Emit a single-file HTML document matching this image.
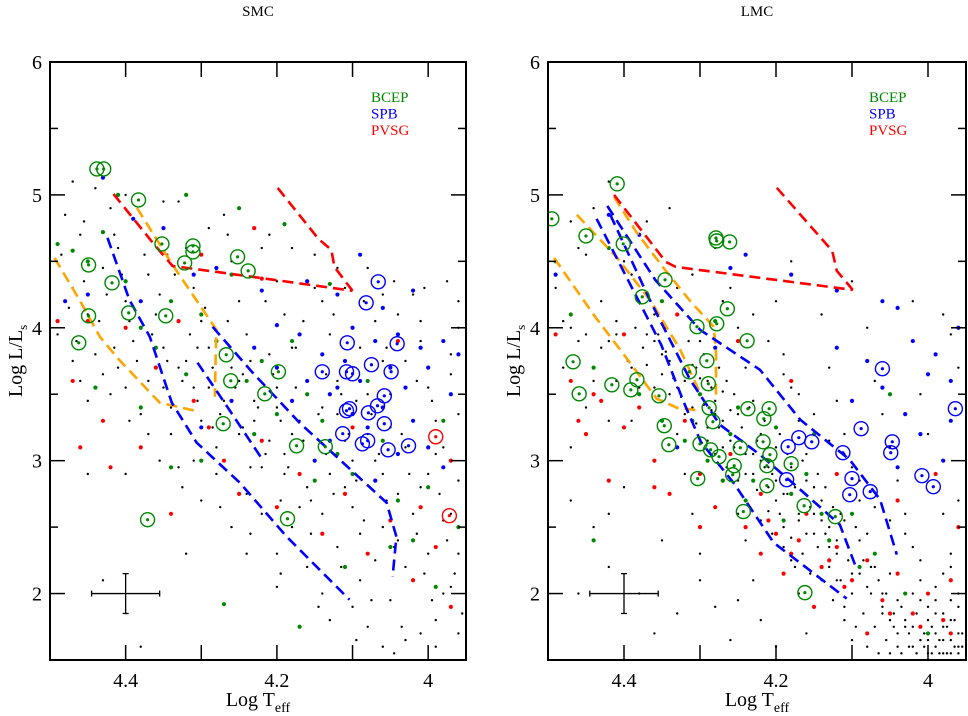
<!DOCTYPE html>
<html><head><meta charset="utf-8">
<style>
html,body{margin:0;padding:0;background:#fff;}
svg{display:block;font-family:"Liberation Serif",serif;}
</style></head>
<body>
<svg id="chart" width="968" height="716" viewBox="0 0 968 716" xmlns="http://www.w3.org/2000/svg"></svg>
<script>
// ---------- DATA ----------
const xTicksLabeled = [4.4, 4.2, 4.0];
const xTickLabels = ["4.4", "4.2", "4"];
const yTicks = [2, 3, 4, 5, 6];
const yTickLabels = ["2", "3", "4", "5", "6"];
const legendNames = ["BCEP", "SPB", "PVSG"];

const smcBlack = [4.48,4.85,4.46,4.7,4.47,4.3,4.45,4.1,4.49,3.95,4.44,3.8,4.46,3.6,4.42,4.9,4.41,4.6,4.43,4.45,4.40,4.2,4.39,3.9,4.41,3.7,4.38,4.75,4.37,4.4,4.36,4.1,4.35,3.85,4.37,3.6,4.34,3.4,4.33,4.95,4.32,4.6,4.31,4.3,4.30,4.05,4.32,3.75,4.29,3.55,4.30,3.3,4.28,3.1,4.27,4.85,4.26,4.5,4.25,4.2,4.24,3.95,4.26,3.7,4.23,3.45,4.25,3.2,4.22,2.95,4.21,4.7,4.20,4.35,4.19,4.1,4.18,3.85,4.20,3.55,4.17,3.3,4.19,3.05,4.16,2.8,4.18,2.5,4.15,4.55,4.14,4.2,4.13,3.95,4.12,3.6,4.14,3.4,4.11,3.15,4.13,2.9,4.10,2.65,4.12,2.35,4.09,2.1,4.08,4.45,4.07,4.05,4.06,3.75,4.08,3.5,4.05,3.25,4.07,3.0,4.04,2.75,4.06,2.5,4.03,2.2,4.05,1.95,4.02,4.25,4.01,3.9,4.00,3.55,4.02,3.3,3.99,3.05,4.01,2.8,3.98,2.55,4.00,2.3,3.97,2.05,3.99,1.8,3.96,4.0,3.97,3.65,3.96,3.35,3.98,3.1,3.96,2.85,3.97,2.6,3.96,2.3,3.98,2.0,3.96,1.7,3.99,1.6,4.03,1.65,4.08,1.75,4.10,1.9,4.14,2.0,4.16,2.2,4.20,2.3,4.22,2.6,4.24,2.75,4.28,2.9,4.31,3.0,4.34,3.2,4.38,3.35,4.42,3.5,4.45,3.45,4.47,3.75,4.43,3.65,4.40,3.55,4.35,3.55,4.33,3.7,4.29,3.85,4.27,3.45,4.23,3.3,4.21,3.15,4.19,2.9,4.17,2.65,4.15,3.0,4.16,3.5,4.11,2.8,4.09,2.45,4.07,2.25,4.04,2.4,4.02,2.6,4.00,2.9,3.99,3.3,4.05,3.5,4.09,3.85,4.11,4.3,4.04,4.1,4.15,4.3,4.22,4.6,4.29,4.75,4.35,4.95,4.44,5.05,4.47,5.1,4.40,5.0,4.18,4.6,4.12,4.45,4.06,4.25,4.01,4.05,4.25,3.6,4.21,3.8,4.31,3.55,4.37,3.2,4.33,2.95,4.30,2.7,4.26,2.5,4.24,2.3,4.20,2.05,4.13,1.8,4.06,1.6,4.01,1.7,4.40,2.9,4.45,2.9,4.43,2.1,4.32,2.3,4.38,1.6,3.97,3.8,3.96,4.2,4.03,3.75,4.08,3.2,4.12,3.35,4.14,2.6,4.18,3.2,4.20,3.4,4.10,3.0,4.06,2.9,4.03,3.1,
4.485,4.55,4.475,4.15,4.465,3.9,4.455,4.35,4.435,4.05,4.425,4.25,4.415,3.85,4.405,4.4,4.395,4.05,4.385,3.75,4.375,4.55,4.365,3.95,4.355,4.25,4.345,3.75,4.335,4.4,4.325,3.6,4.315,3.95,4.305,3.45,4.295,4.15,4.285,3.7,4.275,3.35,4.265,4.05,4.255,3.55,4.245,3.25,4.235,3.75,4.225,3.4,4.215,3.05,4.205,3.65,4.195,3.3,4.185,2.95,4.175,3.55,4.165,3.15,4.155,2.7,4.145,3.35,4.135,3.05,4.125,2.75,4.115,3.5,4.105,3.2,4.095,2.85,4.085,2.55,4.075,3.35,4.065,3.05,4.055,2.7,4.045,2.35,4.035,3.2,4.025,2.9,4.015,2.45,4.005,2.15,3.995,3.45,3.985,2.75,3.975,2.4,3.965,2.15,3.955,1.85,4.285,3.25,4.235,2.95,4.195,2.7,4.155,2.45,4.115,2.2,4.075,1.95,4.035,1.75,3.995,1.95,4.305,3.85,4.245,3.65,4.175,3.85,4.135,3.65,4.095,3.45,4.055,3.85,4.015,3.6,4.215,4.2,4.165,4.05,4.125,4.1,4.085,4.2,4.045,4.35,4.005,4.3,3.975,4.35,4.265,4.7,4.345,4.55,4.415,4.7,4.455,4.8,4.395,3.3,4.355,3.0,4.325,2.8,4.275,2.65,4.235,2.45,4.195,2.15,4.145,1.9,4.095,1.65,4.045,1.55];
const smcGreen = [4.49,4.63,4.47,4.58,4.45,4.5,4.43,4.72,4.40,4.35,4.38,4.0,4.36,3.85,4.34,4.2,4.41,5.0,4.32,3.65,4.30,4.1,4.28,3.9,4.26,4.4,4.24,3.6,4.22,3.75,4.20,3.35,4.18,3.9,4.16,3.5,4.14,3.3,4.12,3.05,4.10,2.9,4.08,3.6,4.06,3.15,4.04,2.7,4.02,2.4,4.00,2.8,3.98,3.3,3.96,2.5,4.34,2.95,4.30,3.0,4.27,1.92,4.17,1.75,4.11,2.2,4.13,4.33,4.19,4.78,4.25,4.9,4.32,5.0,4.44,3.55,4.38,3.4,4.23,3.2,4.15,2.85,4.05,2.35,3.99,2.05];
const smcBlue = [4.43,5.13,4.39,4.82,4.35,4.75,4.31,4.4,4.38,4.2,4.28,4.45,4.22,4.28,4.20,4.02,4.16,4.35,4.12,4.25,4.10,4.0,4.09,4.55,4.06,4.15,4.04,3.95,4.02,4.28,4.00,3.7,3.98,3.9,3.97,3.5,3.96,3.8,4.14,3.8,4.12,3.55,4.10,3.35,4.08,3.25,4.06,3.4,4.04,3.05,4.02,3.3,4.00,3.1,3.98,2.95,4.16,3.6,4.18,3.45,4.20,3.7,4.13,3.15,4.15,3.0,4.07,2.85,4.03,3.55,4.01,3.85,4.23,3.85,4.26,3.45,4.30,3.25,4.45,4.25,4.48,4.2,4.11,3.75,4.09,3.6,4.13,3.5,4.05,3.7,4.17,3.95,4.07,3.9];
const smcRed = [4.49,4.05,4.47,3.6,4.45,4.05,4.43,3.3,4.40,4.0,4.38,3.1,4.36,3.7,4.33,4.05,4.31,3.45,4.29,3.25,4.27,3.0,4.25,2.75,4.22,3.15,4.20,2.65,4.17,2.9,4.14,2.45,4.11,2.75,4.08,2.3,4.05,2.55,4.02,2.1,3.99,2.35,3.97,1.9,4.23,4.75,4.30,4.55,4.22,4.37,4.34,2.6,4.42,2.95,4.46,3.1,4.04,3.9,3.97,3.0,4.01,2.65,4.10,3.25];
const smcGreenCircled = [4.438,5.195,4.429,5.195,4.383,4.962,4.352,4.631,4.311,4.616,4.311,4.571,4.322,4.488,4.252,4.534,4.238,4.428,4.449,4.473,4.418,4.338,4.462,3.887,4.449,4.090,4.396,4.112,4.347,4.090,4.267,3.797,4.261,3.601,4.271,3.278,4.198,3.669,4.216,3.503,4.174,3.112,4.136,3.105,4.186,2.563,4.371,2.556];
const smcBlueCircled = [4.066,4.346,4.082,4.188,4.107,3.887,4.075,3.722,4.049,3.669,4.041,3.880,4.140,3.669,4.108,3.669,4.100,3.654,4.058,3.488,4.067,3.413,4.079,3.360,4.058,3.278,4.104,3.391,4.108,3.376,4.113,3.203,4.080,3.150,4.087,3.127,4.053,3.082,4.026,3.112];
const smcRedCircled = [3.990,3.180,3.972,2.586];
const smcRedTracks = [
  [4.416,5.007,4.364,4.639,4.338,4.466,4.223,4.376,4.100,4.278],
  [4.199,5.052,4.145,4.669,4.128,4.586,4.124,4.458,4.100,4.278]];
const smcBlueTracks = [
  [4.424,4.677,4.395,4.210,4.368,3.932,4.339,3.436,4.306,3.135,4.249,2.834,4.187,2.428,4.104,1.954],
  [4.305,3.737,4.263,3.383,4.219,3.007],
  [4.285,4.007,4.232,3.662,4.170,3.285,4.055,2.684,4.042,2.428,4.047,2.127]];
const smcOrangeTracks = [
  [4.494,4.526,4.461,4.210,4.434,3.932,4.411,3.774,4.355,3.436,4.302,3.368],
  [4.385,4.902,4.338,4.474,4.280,3.985,4.281,3.759,4.282,3.481]];

const lmcBlack = [4.49,4.3,4.47,4.0,4.48,3.7,4.46,4.6,4.44,4.9,4.45,3.4,4.47,3.1,4.43,4.2,4.42,3.9,4.41,3.6,4.40,4.5,4.39,3.3,4.40,2.8,4.44,2.5,4.42,2.2,4.38,2.0,4.36,1.7,4.37,4.8,4.36,4.1,4.35,3.8,4.34,3.5,4.33,3.2,4.32,2.9,4.31,2.6,4.30,2.3,4.28,1.9,4.31,4.4,4.30,3.9,4.29,3.6,4.28,3.35,4.27,3.1,4.26,2.85,4.25,2.6,4.24,2.4,4.23,2.1,4.22,1.8,4.26,4.3,4.25,4.0,4.24,3.7,4.23,3.45,4.22,3.2,4.21,2.95,4.20,2.7,4.19,2.5,4.18,2.25,4.17,2.0,4.16,1.7,4.20,4.2,4.19,3.8,4.18,3.55,4.17,3.3,4.16,3.05,4.15,2.8,4.14,2.55,4.13,2.35,4.12,2.1,4.11,1.9,4.10,1.65,4.14,4.1,4.13,3.7,4.12,3.45,4.11,3.2,4.10,2.95,4.09,2.7,4.08,2.45,4.07,2.2,4.06,2.0,4.05,1.8,4.04,1.6,4.08,4.0,4.07,3.6,4.06,3.35,4.05,3.1,4.04,2.85,4.03,2.6,4.02,2.35,4.01,2.1,4.00,1.9,3.99,1.7,3.98,1.55,4.02,3.9,4.01,3.5,4.00,3.2,3.99,2.9,3.98,2.6,3.97,2.3,3.96,2.0,3.97,1.8,3.96,1.6,3.96,3.7,3.97,3.3,3.96,2.7,3.98,4.1,4.36,3.9,4.35,3.65,4.34,3.75,4.33,3.55,4.32,3.6,4.31,3.4,4.30,3.5,4.29,3.25,4.28,3.45,4.27,3.3,4.26,3.15,4.25,3.35,4.24,3.05,4.23,2.9,4.22,3.0,4.21,2.8,4.20,3.1,4.19,2.75,4.18,2.95,4.17,2.6,4.16,2.85,4.15,2.45,4.14,2.7,4.13,2.5,4.12,2.3,4.11,2.55,4.10,2.15,4.09,2.4,4.08,2.05,4.07,2.3,4.06,1.85,4.05,2.15,4.04,1.95,4.03,1.75,4.02,2.0,4.01,1.65,4.00,1.8,3.99,1.6,3.98,1.75,3.97,1.65,3.96,1.55,3.98,1.85,3.97,1.95,3.99,2.05,4.00,1.55,4.02,1.6,3.96,1.9,3.955,1.7,3.965,1.6,3.975,1.55,3.985,1.65,3.995,1.75,4.005,1.7,4.015,1.85,4.025,1.7,4.035,1.9,4.045,1.75,4.055,2.0,4.065,2.1,4.075,2.2,4.085,2.25,4.095,2.5,4.105,2.35,4.115,2.6,4.125,2.65,4.135,2.8,4.145,2.9,4.155,2.65,4.165,3.0,4.175,2.8,4.185,3.05,4.195,3.2,4.205,2.9,4.215,3.3,4.225,3.15,4.235,3.4,4.245,3.25,4.255,3.5,4.265,3.6,4.275,3.7,4.285,3.55,4.295,3.8,4.305,3.7,4.315,3.9,4.325,3.75,4.345,4.0,4.355,3.95,4.375,3.85,4.385,4.0,4.395,3.75,4.41,4.05,4.43,3.85,4.45,3.95,4.48,4.05,
4.37,3.72,4.36,3.55,4.35,3.45,4.345,3.82,4.335,3.62,4.325,3.48,4.32,3.35,4.31,3.72,4.305,3.28,4.30,3.62,4.295,3.42,4.29,3.15,4.285,3.38,4.28,3.05,4.275,3.25,4.27,3.52,4.265,2.95,4.26,3.38,4.255,3.1,4.25,2.85,4.245,3.15,4.24,2.9,4.235,2.65,4.23,3.05,4.225,2.78,4.22,2.55,4.215,2.95,4.21,2.62,4.205,2.45,4.20,2.85,4.195,2.6,4.19,2.35,4.185,2.75,4.18,2.42,4.175,2.2,4.17,2.55,4.165,2.3,4.16,2.45,4.155,2.15,4.15,2.6,4.145,2.35,4.14,2.1,4.135,2.45,4.13,2.2,4.125,1.95,4.12,2.4,4.115,2.1,4.11,1.8,4.105,2.25,4.10,2.0,4.095,1.75,4.09,2.15,4.085,1.85,4.08,1.6,4.075,2.0,4.07,1.75,4.065,1.55,4.06,1.9,4.055,1.65,4.05,1.55,4.045,1.85,4.04,1.7,4.035,1.55,4.03,1.8,4.025,1.6,4.02,1.75,4.015,1.55,4.01,1.95,4.005,1.6,4.00,1.65,3.995,1.55,3.99,1.85,3.985,1.55,3.98,1.65,3.975,1.75,3.97,1.55,3.965,1.8,3.96,1.7,3.955,1.6,3.99,1.95,3.98,2.15,3.97,2.2,4.01,2.25,4.03,2.45,4.05,2.55,4.07,2.65,4.09,2.85,4.11,3.05,4.13,3.15,4.15,3.35,4.17,3.5,4.19,3.65,4.21,3.9,4.23,4.1,4.27,4.2,4.33,4.3,4.39,4.4,4.45,4.55,4.47,4.8,4.42,5.1,4.34,4.9,4.28,4.6,4.18,4.5,4.10,4.35,4.02,4.2,3.97,3.95,4.46,3.9,4.44,3.6,4.42,3.3,4.41,3.95,4.39,3.7,4.38,3.55,4.37,3.95,4.47,2.7,4.42,2.6,4.35,2.4,4.30,2.1,4.25,1.95,4.20,1.6,4.26,1.65,4.33,1.85,4.46,2.0];
const lmcGreen = [4.49,4.5,4.47,4.1,4.44,3.7,4.42,4.6,4.38,3.5,4.35,3.3,4.32,3.15,4.29,3.0,4.27,2.85,4.24,2.7,4.21,3.0,4.19,2.55,4.16,2.9,4.13,2.4,4.10,2.6,4.07,2.3,4.03,2.0,4.00,1.7,4.25,3.4,4.30,3.5,4.20,3.25,4.15,3.2,4.05,3.5,4.44,2.4,4.35,4.2,4.28,4.05,4.23,2.85,4.18,2.75,4.14,2.6,4.09,2.2,4.26,3.2,4.31,3.3];
const lmcBlue = [4.49,4.4,4.42,4.85,4.38,4.7,4.24,4.55,4.26,4.45,4.18,4.4,4.12,4.28,4.06,4.2,4.04,4.15,4.02,3.9,3.99,3.8,3.97,3.6,3.96,4.0,4.08,3.75,4.06,3.55,4.03,3.35,4.01,3.2,3.98,3.0,4.10,3.45,4.12,3.85,4.00,3.65,4.04,2.95,3.97,3.3,4.33,3.1,4.28,3.85];
const lmcRed = [4.49,3.95,4.47,3.6,4.46,3.3,4.45,3.2,4.43,3.45,4.42,2.85,4.40,3.25,4.38,3.4,4.36,3.0,4.34,2.75,4.32,3.3,4.30,2.9,4.28,2.65,4.26,3.05,4.24,2.5,4.22,2.75,4.20,2.45,4.18,2.3,4.16,2.6,4.14,2.2,4.12,2.35,4.10,2.1,4.08,2.25,4.06,1.95,4.04,2.15,4.02,1.85,4.00,2.0,3.98,1.8,3.97,2.1,3.96,2.5,3.99,2.9,4.04,2.7,4.12,2.9,4.18,3.6,4.25,3.9,4.33,4.1,4.40,3.95,4.30,2.5,4.22,2.3,4.15,1.9,4.08,1.7,4.36,2.8,4.44,3.5,4.21,2.55,4.17,2.4,4.13,2.25,4.11,2.05,4.27,2.85,4.19,2.15,4.05,1.85,4.01,1.75,3.97,1.7];
const lmcGreenCircled = [4.495,4.82,4.409,5.083,4.450,4.691,4.401,4.631,4.279,4.676,4.278,4.654,4.261,4.646,4.346,4.361,4.376,4.233,4.264,4.143,4.304,4.008,4.278,4.030,4.238,3.902,4.467,3.744,4.459,3.503,4.416,3.571,4.391,3.533,4.383,3.609,4.354,3.488,4.314,3.669,4.291,3.752,4.289,3.579,4.288,3.398,4.283,3.293,4.347,3.263,4.341,3.120,4.300,3.127,4.286,3.082,4.275,3.030,4.303,2.865,4.255,2.962,4.257,2.894,4.247,3.097,4.237,3.391,4.209,3.391,4.216,3.316,4.217,3.142,4.208,3.045,4.212,2.962,4.212,2.812,4.180,2.977,4.243,2.617,4.163,2.661,4.122,2.579,4.162,2.007];
const lmcBlueCircled = [4.060,3.692,3.964,3.391,4.088,3.241,4.170,3.173,4.184,3.105,4.153,3.142,4.112,3.060,4.047,3.142,4.049,3.060,4.100,2.865,4.186,2.857,4.103,2.744,4.076,2.767,4.008,2.887,3.993,2.804];
const lmcRedCircled = [];
const lmcRedTracks = [
  [4.413,5.0,4.345,4.496,4.332,4.458,4.099,4.285],
  [4.199,5.053,4.126,4.579,4.120,4.429,4.099,4.285]];
const lmcBlueTracks = [
  [4.436,4.820,4.378,4.173,4.351,3.872,4.321,3.436,4.299,3.142,4.255,2.827,4.203,2.383,4.107,1.962],
  [4.422,4.917,4.359,4.361,4.300,3.985,4.221,3.684,4.168,3.308,4.103,3.007,4.063,2.707,4.041,2.293],
  [4.418,4.850,4.366,4.210,4.313,3.609,4.274,3.271,4.221,3.045,4.168,2.782,4.116,2.519,4.096,2.218]];
const lmcOrangeTracks = [
  [4.492,4.526,4.439,4.090,4.396,3.767,4.357,3.466,4.330,3.398,4.299,3.376],
  [4.462,4.850,4.409,4.526,4.364,4.195,4.326,3.835,4.299,3.497],
  [4.413,4.985,4.383,4.714,4.347,4.443,4.312,4.195,4.282,4.008,4.279,3.820,4.279,3.466]];

// ---------- DRAW ----------
const NS = "http://www.w3.org/2000/svg";
const svg = document.getElementById("chart");
function mk(tag, attrs, parent){
  const e = document.createElementNS(NS, tag);
  for (const k in attrs) e.setAttribute(k, attrs[k]);
  (parent||svg).appendChild(e);
  return e;
}
const T0 = 4.5, T1 = 3.95, L0 = 1.5, L1 = 6;

function panel(key, title, left, right, top, bottom, ds){
  const g = mk("g", {});
  
  
  const sx = t => left + (T0 - t) / (T0 - T1) * (right - left);
  const sy = l => bottom - (l - L0) / (L1 - L0) * (bottom - top);
  const cid = "clip-" + key;
  const defs = mk("defs", {}, g);
  const cp = mk("clipPath", {id: cid}, defs);
  mk("rect", {x:left, y:top, width:right-left, height:bottom-top}, cp);

  const t = mk("text", {x:(left+right)/2, y:16, "text-anchor":"middle", "font-size":"15"}, g);
  t.textContent = title;
  
  

  const plot = mk("g", {"clip-path":"url(#"+cid+")"}, g);
  
  

  function dots(arr, color, r, name){
    const dg = mk("g", {fill: color}, plot);
    
    
    for (let i = 0; i < arr.length; i += 2){
      const c = mk("circle", {cx: sx(arr[i]), cy: sy(arr[i+1]), r: r}, dg);
      
      
    }
  }
  function rings(arr, color, name){
    const dg = mk("g", {}, plot);
    
    
    for (let i = 0; i < arr.length; i += 2){
      const c = mk("circle", {cx: sx(arr[i]), cy: sy(arr[i+1]), r: 7, fill:"none", stroke: color, "stroke-width": 1.4}, dg);
      
      
      const d = mk("circle", {cx: sx(arr[i]), cy: sy(arr[i+1]), r: 1.6, fill: color}, dg);
      
      
    }
  }
  function tracks(list, color, name){
    list.forEach(arr => {
      let d = "";
      for (let i = 0; i < arr.length; i += 2) d += (i ? "L" : "M") + sx(arr[i]).toFixed(1) + "," + sy(arr[i+1]).toFixed(1);
      const p = mk("path", {d: d, fill:"none", stroke: color, "stroke-width": 2.6, "stroke-dasharray": "11,6"}, plot);
      
      
    });
  }
  dots(ds.black, "#000", 1.2, key + "-field-stars");
  dots(ds.red, "#ff0000", 2.1, key + "-pvsg-stars");
  dots(ds.green, "#008800", 2.1, key + "-bcep-stars");
  dots(ds.blue, "#0000ff", 2.1, key + "-spb-stars");
  tracks(ds.orange, "#ffa500", key + "-orange-track");
  tracks(ds.blueT, "#0000ff", key + "-spb-instability-strip");
  tracks(ds.redT, "#ff0000", key + "-pvsg-boundary");
  rings(ds.gc, "#008800", key + "-bcep-candidates");
  rings(ds.bc, "#0000ff", key + "-spb-candidates");
  rings(ds.rc, "#ff0000", key + "-pvsg-candidates");

  // error bar
  const eb = mk("g", {stroke:"#000", "stroke-width":1.3}, plot);
  
  
  mk("line", {x1: sx(4.445), x2: sx(4.355), y1: sy(2), y2: sy(2)}, eb);
  mk("line", {x1: sx(4.4), x2: sx(4.4), y1: sy(2.15), y2: sy(1.85)}, eb);
  mk("line", {x1: sx(4.445), x2: sx(4.445), y1: sy(2)-3, y2: sy(2)+3}, eb);
  mk("line", {x1: sx(4.355), x2: sx(4.355), y1: sy(2)-3, y2: sy(2)+3}, eb);
  mk("line", {x1: sx(4.4)-3, x2: sx(4.4)+3, y1: sy(2.15), y2: sy(2.15)}, eb);
  mk("line", {x1: sx(4.4)-3, x2: sx(4.4)+3, y1: sy(1.85), y2: sy(1.85)}, eb);

  // frame
  const fr = mk("rect", {x:left, y:top, width:right-left, height:bottom-top, fill:"none", stroke:"#000", "stroke-width":2}, g);
  
  

  // ticks
  const tk = mk("g", {stroke:"#000", "stroke-width":1.5}, g);
  
  
  for (let v = 4.4; v > 3.95; v -= 0.1){
    const x = sx(v);
    mk("line", {x1:x, x2:x, y1:top, y2:top+15}, tk);
    mk("line", {x1:x, x2:x, y1:bottom, y2:bottom-15}, tk);
  }
  for (let v = 2; v <= 6; v += 0.5){
    const y = sy(v), len = (v % 1 === 0) ? 15 : 8;
    mk("line", {x1:left, x2:left+len, y1:y, y2:y}, tk);
    mk("line", {x1:right, x2:right-len, y1:y, y2:y}, tk);
  }
  xTicksLabeled.forEach((v, i) => {
    const tl = mk("text", {x: sx(v), y: bottom + 27, "text-anchor":"middle", "font-size":"20"}, g);
    tl.textContent = xTickLabels[i];
    
    
  });
  yTicks.forEach((v, i) => {
    const tl = mk("text", {x: left - 8, y: sy(v) + 7, "text-anchor":"end", "font-size":"20"}, g);
    tl.textContent = yTickLabels[i];
    
    
  });

  // axis titles
  const xt = mk("text", {x:(left+right)/2, y:706, "text-anchor":"middle", "font-size":"20"}, g);
  xt.innerHTML = 'Log T<tspan font-size="14" dy="6">eff</tspan>';
  
  
  const yt = mk("text", {x:0, y:0, "text-anchor":"middle", "font-size":"20", transform:"translate(" + (left-28) + "," + ((top+bottom)/2) + ") rotate(-90)"}, g);
  yt.innerHTML = 'Log L/L<tspan font-size="13" dy="5">s</tspan>';
  
  

  // legend
  const colors = ["#008800", "#0000ff", "#ff0000"];
  legendNames.forEach((n, i) => {
    const lt = mk("text", {x: left + 321, y: 102 + i*16.5, "font-size":"15", fill: colors[i]}, g);
    lt.textContent = n;
    
    
  });
}

panel("smc", "SMC", 50, 466, 62, 660, {
  black: smcBlack, green: smcGreen, blue: smcBlue, red: smcRed,
  gc: smcGreenCircled, bc: smcBlueCircled, rc: smcRedCircled,
  redT: smcRedTracks, blueT: smcBlueTracks, orange: smcOrangeTracks});
panel("lmc", "LMC", 548, 966, 62, 660, {
  black: lmcBlack, green: lmcGreen, blue: lmcBlue, red: lmcRed,
  gc: lmcGreenCircled, bc: lmcBlueCircled, rc: lmcRedCircled,
  redT: lmcRedTracks, blueT: lmcBlueTracks, orange: lmcOrangeTracks});
</script>
</body></html>
